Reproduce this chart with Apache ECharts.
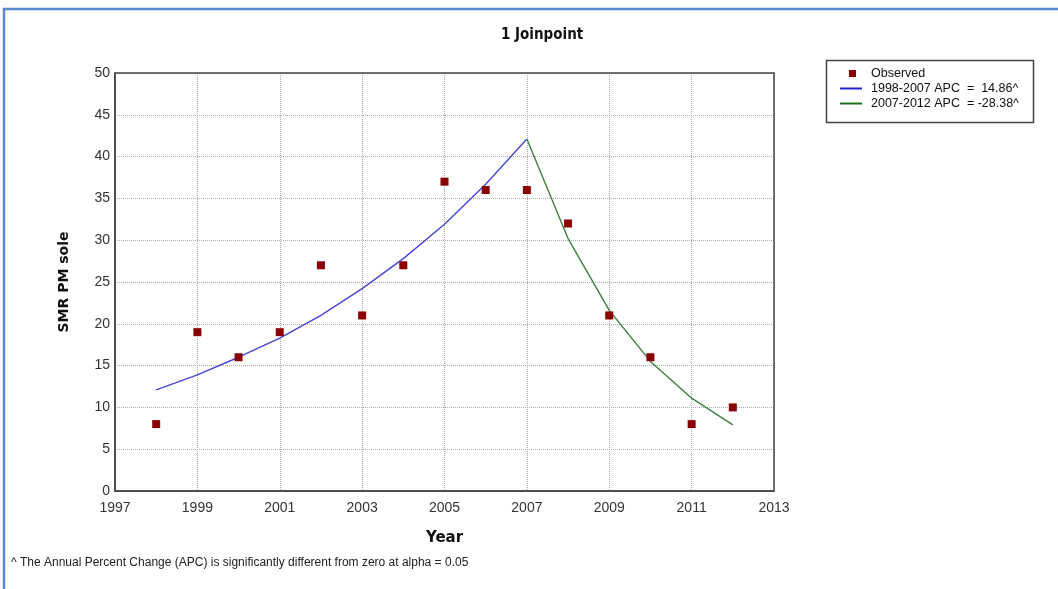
<!DOCTYPE html>
<html>
<head>
<meta charset="utf-8">
<script src="https://cdn.jsdelivr.net/npm/echarts@6/dist/echarts.min.js"></script>
<style>
  html, body { margin: 0; padding: 0; background: #fff; }
  #chart { width: 1058px; height: 589px; }
</style>
</head>
<body>
<div id="chart"></div>
<script>
// Observed SMR values per year
const years = [1998, 1999, 2000, 2001, 2002, 2003, 2004, 2005, 2006, 2007, 2008, 2009, 2010, 2011, 2012];
const observed = [8, 19, 16, 19, 27, 21, 27, 37, 36, 36, 32, 21, 16, 8, 10];

// Fitted joinpoint segments (modelled values per year)
const seg1Years = [1998, 1999, 2000, 2001, 2002, 2003, 2004, 2005, 2006, 2007];
const seg1Fit = [12.1, 13.9, 16.0, 18.3, 21.0, 24.2, 27.8, 31.9, 36.7, 42.1];
const seg2Years = [2007, 2008, 2009, 2010, 2011, 2012];
const seg2Fit = [42.1, 30.2, 21.6, 15.5, 11.1, 7.9];

const seg1Name = '1998-2007 APC  =  14.86^';
const seg2Name = '2007-2012 APC  = -28.38^';

// x axis runs from 1997 to 2013 in steps of 2; values are offset from the first tick
const xStart = 1997, xEnd = 2013, xStep = 2;
const yTicks = { min: 0, max: 50, step: 5 };

const toXY = (xs, ys) => xs.map((x, i) => [x - xStart, ys[i]]);

const chart = echarts.init(document.getElementById('chart'), null, { renderer: 'canvas' });
const font = 'Liberation Sans, Arial, sans-serif';
const grid = { left: 115, right: 284, top: 73, bottom: 98 };

chart.setOption({
  animation: false,
  backgroundColor: '#ffffff',
  title: {
    text: '1 Joinpoint',
    left: 496, top: 23,
    textStyle: { fontFamily: 'DejaVu Sans Condensed, DejaVu Sans, sans-serif', fontWeight: 'bold', fontSize: 15, color: '#111' }
  },
  grid: Object.assign({ show: false }, grid),
  legend: [
    {
      data: ['Observed'],
      left: 849, top: 67, padding: 0,
      itemWidth: 7, itemHeight: 7, icon: 'rect',
      textStyle: { fontFamily: font, fontSize: 12.5, color: '#111', padding: [0, 0, 0, 10] },
      selectedMode: false
    },
    {
      data: [seg1Name, seg2Name],
      orient: 'vertical',
      left: 840, top: 81, padding: 0, itemGap: 0,
      itemWidth: 22, itemHeight: 2, icon: 'rect',
      textStyle: { fontFamily: font, fontSize: 12.5, color: '#111', padding: [0, 0, 0, 4], lineHeight: 15 },
      selectedMode: false
    }
  ],
  xAxis: {
    type: 'value',
    min: 0, max: xEnd - xStart, interval: xStep,
    name: 'Year', nameLocation: 'middle', nameGap: 40,
    nameTextStyle: { fontFamily: 'DejaVu Sans, sans-serif', fontWeight: 'bold', fontSize: 15, color: '#111' },
    axisLine: { show: true, lineStyle: { color: '#444', width: 1.5 } },
    axisTick: { show: false },
    axisLabel: {
      fontFamily: font, fontSize: 14, color: '#333', margin: 10,
      formatter: v => String(v + xStart)
    },
    splitLine: { show: true, lineStyle: { color: '#aaa', type: [1, 1], width: 1 } }
  },
  yAxis: {
    type: 'value',
    min: yTicks.min, max: yTicks.max, interval: yTicks.step,
    name: 'SMR PM sole', nameLocation: 'middle', nameGap: 44, nameRotate: 90,
    nameTextStyle: { fontFamily: 'DejaVu Sans, sans-serif', fontWeight: 'bold', fontSize: 14, color: '#111' },
    axisLine: { show: true, lineStyle: { color: '#444', width: 1.5 } },
    axisTick: { show: false },
    axisLabel: { fontFamily: font, fontSize: 14, color: '#333', margin: 5 },
    splitLine: { show: true, lineStyle: { color: '#aaa', type: [1, 1], width: 1 } }
  },
  series: [
    {
      name: 'Observed', type: 'scatter',
      data: toXY(years, observed),
      symbol: 'rect', symbolSize: 8,
      itemStyle: { color: '#8b0000', opacity: 1 }, z: 5
    },
    {
      name: seg1Name, type: 'line',
      data: toXY(seg1Years, seg1Fit),
      showSymbol: false, symbol: 'none',
      lineStyle: { color: '#4646d8', width: 1.4 },
      itemStyle: { color: '#2222cc' }
    },
    {
      name: seg2Name, type: 'line',
      data: toXY(seg2Years, seg2Fit),
      showSymbol: false, symbol: 'none',
      lineStyle: { color: '#3d7f3d', width: 1.4 },
      itemStyle: { color: '#1f6f1f' }
    }
  ],
  graphic: [
    {
      type: 'polyline',
      shape: { points: [[4, 589], [4, 9], [1058, 9]] },
      style: { stroke: '#5b8bd0', lineWidth: 2.5, fill: null },
      silent: true
    },
    {
      // frame around the plotting area
      type: 'rect',
      shape: { x: grid.left, y: grid.top, width: 1058 - grid.left - grid.right, height: 589 - grid.top - grid.bottom },
      style: { stroke: '#444', lineWidth: 1.5, fill: null },
      silent: true, z: 10
    },
    {
      type: 'rect',
      shape: { x: 826.5, y: 60.5, width: 207, height: 62 },
      style: { stroke: '#444', lineWidth: 1.5, fill: null },
      silent: true, z: -1
    },
    {
      type: 'text',
      left: 11, top: 557,
      style: {
        text: '^ The Annual Percent Change (APC) is significantly different from zero at alpha = 0.05',
        font: '12px Liberation Sans, Arial, sans-serif', fill: '#222'
      },
      silent: true
    }
  ]
});
</script>
</body>
</html>
